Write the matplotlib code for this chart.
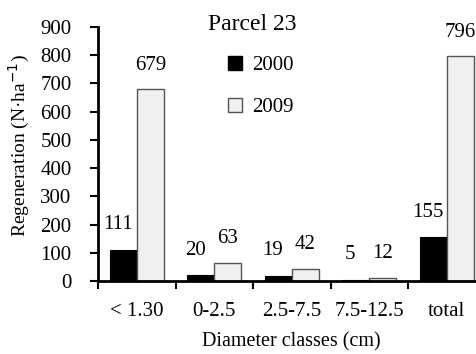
import matplotlib
matplotlib.use("Agg")
import matplotlib.pyplot as plt
import numpy as np
from matplotlib.patches import Patch

categories = ["< 1.30", "0-2.5", "2.5-7.5", "7.5-12.5", "total"]
values_2000 = [111, 20, 19, 5, 155]
values_2009 = [679, 63, 42, 12, 796]
yticks = [0, 100, 200, 300, 400, 500, 600, 700, 800, 900]

plt.rcParams['font.family'] = ['Liberation Serif', 'DejaVu Serif']
fs = 15

fig = plt.figure(figsize=(4.77, 3.54), dpi=100)
ax = fig.add_axes([98/477, 73/354, 387.5/477, 254/354])

x = np.arange(len(categories))
w = 0.35
ax.bar(x - w/2, values_2000, w, color='black', edgecolor='black', linewidth=0.8, label='2000')
ax.bar(x + w/2, values_2009, w, color='#f0f0f0', edgecolor='#555555', linewidth=1.0, label='2009')

for xi, v in zip(x - w/2, values_2000):
    ax.annotate(str(v), (xi, v), xytext=(-4, 18), textcoords='offset points',
                ha='center', va='center', fontsize=fs)
for xi, v in zip(x + w/2, values_2009):
    ax.annotate(str(v), (xi, v), xytext=(0, 17.5), textcoords='offset points',
                ha='center', va='center', fontsize=fs)

ax.set_xlim(-0.5, len(categories) - 0.5)
ax.set_ylim(0, 900)
ax.set_yticks(yticks)
ax.set_yticklabels([str(t) for t in yticks], fontsize=fs)
ax.set_xticks(np.arange(len(categories) + 1) - 0.5)
ax.set_xticklabels([])
ax.set_xticks(x, minor=True)
ax.set_xticklabels(categories, minor=True, fontsize=fs)
ax.tick_params(axis='x', which='minor', length=0, pad=15)
ax.tick_params(axis='x', which='major', direction='out', length=6, width=1.5)
ax.tick_params(axis='y', direction='out', length=6, width=1.5, pad=13)

for s in ['top', 'right']:
    ax.spines[s].set_visible(False)
ax.spines['left'].set_linewidth(2)
ax.spines['bottom'].set_linewidth(2)

ax.set_ylabel("Regeneration (N·ha$^{-1}$)", fontsize=14)
ax.yaxis.set_label_coords(-0.17, 0.535)
ax.set_xlabel("Diameter classes (cm)", fontsize=14.5, labelpad=8)
fig.text(252/477, 1 - 24/354, "Parcel 23", fontsize=17, ha='center', va='center')

handles = [Patch(facecolor='black', edgecolor='black'),
           Patch(facecolor='#f0f0f0', edgecolor='#555555')]
fig.legend(handles, ['2000', '2009'], loc='upper left', bbox_to_anchor=(228/477, 1 - 56/354),
           frameon=False, fontsize=fs, handlelength=0.65, handleheight=0.65,
           handletextpad=0.5, labelspacing=1.1, borderpad=0, borderaxespad=0)

fig.savefig("out.png", dpi=100)
